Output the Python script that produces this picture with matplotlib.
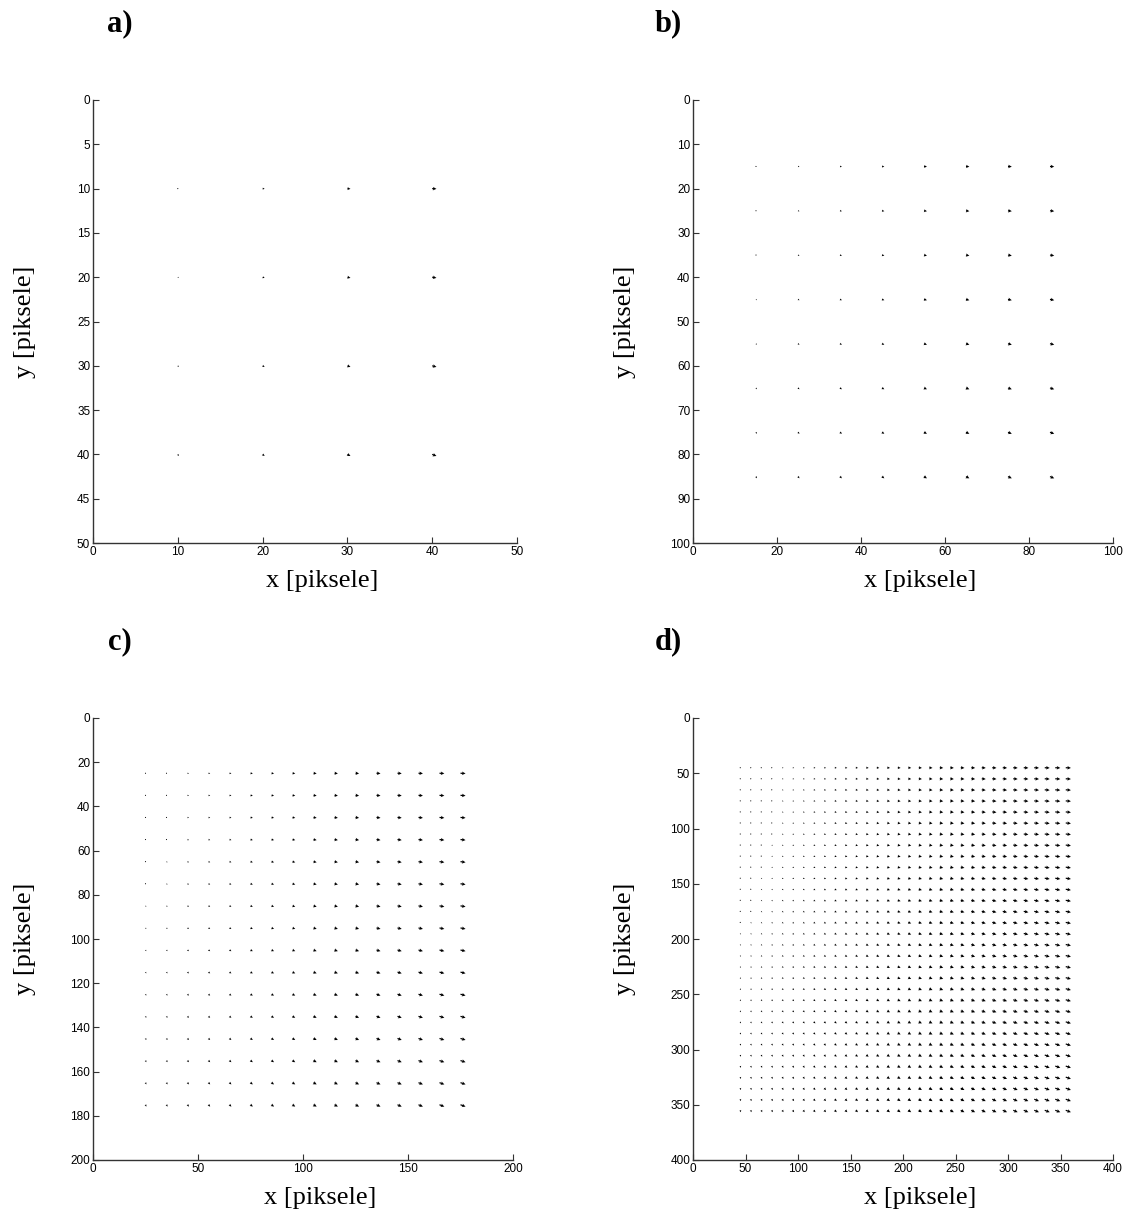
import matplotlib
matplotlib.use("Agg")
import matplotlib.pyplot as plt
import numpy as np

# --- data: grid positions (pixels) and displacement components per column / row
xa = [10, 20, 30, 40]
ua = [0.12, 0.24, 0.36, 0.50]
va = [0.03, 0.08, 0.13, 0.18]

xb = [15, 25, 35, 45, 55, 65, 75, 85]
ub = [0.20, 0.35, 0.45, 0.55, 0.70, 0.80, 0.90, 1.00]
vb = [0.05, 0.10, 0.15, 0.20, 0.25, 0.30, 0.35, 0.40]

xc = list(range(25, 176, 10))
uc = [0.4, 0.5, 0.7, 0.8, 0.9, 1.1, 1.2, 1.3, 1.5, 1.6, 1.7, 1.9, 2.0, 2.1, 2.3, 2.4]
vc = [0.10, 0.15, 0.20, 0.25, 0.30, 0.35, 0.40, 0.45, 0.50, 0.55, 0.60, 0.65,
      0.70, 0.75, 0.80, 0.85]

xd = list(range(45, 356, 10))
ud = [0.6, 0.7, 0.9, 1.0, 1.2, 1.3, 1.4, 1.6, 1.7, 1.9, 2.0, 2.1, 2.3, 2.4, 2.6, 2.7,
      2.8, 3.0, 3.1, 3.3, 3.4, 3.5, 3.7, 3.8, 4.0, 4.1, 4.2, 4.4, 4.5, 4.7, 4.8, 4.9]
vd = [0.20, 0.25, 0.30, 0.35, 0.40, 0.45, 0.50, 0.55, 0.60, 0.65, 0.70, 0.75,
      0.80, 0.85, 0.90, 0.95, 1.00, 1.05, 1.10, 1.15, 1.20, 1.25, 1.30, 1.35,
      1.40, 1.45, 1.50, 1.55, 1.60, 1.65, 1.70, 1.75]

panels = [
    ("a)", xa, ua, va, 50, [0, 10, 20, 30, 40, 50], list(range(0, 51, 5))),
    ("b)", xb, ub, vb, 100, list(range(0, 101, 20)), list(range(0, 101, 10))),
    ("c)", xc, uc, vc, 200, list(range(0, 201, 50)), list(range(0, 201, 20))),
    ("d)", xd, ud, vd, 400, list(range(0, 401, 50)), list(range(0, 401, 50))),
]

W, H = 1131, 1222
fig = plt.figure(figsize=(W / 100, H / 100), dpi=100)

# axes boxes in pixels: left, top, right, bottom
boxes = [(93, 100, 517, 543), (693, 100, 1113, 543),
         (93, 718, 513, 1160), (693, 718, 1113, 1160)]
label_pos = [(120, 24), (668, 24), (120, 642), (668, 642)]

serif = ["Liberation Serif", "DejaVu Serif"]
sans = ["Liberation Sans", "DejaVu Sans"]

for (name, xs, us, vs, lim, xt, yt), (l, t, r, b), (lx, ly) in zip(panels, boxes, label_pos):
    ax = fig.add_axes([l / W, 1 - b / H, (r - l) / W, (b - t) / H])
    X, Y = np.meshgrid(xs, xs)
    U, _ = np.meshgrid(us, xs)
    _, V = np.meshgrid(xs, vs)
    ax.quiver(X, Y, U, V, angles="xy", scale_units="xy", scale=1,
              units="dots", width=1.2, headwidth=3, headlength=3,
              headaxislength=2.5, color="black")
    ax.set_xlim(0, lim)
    ax.set_ylim(lim, 0)
    ax.set_xticks(xt)
    ax.set_yticks(yt)
    for s in ("top", "right"):
        ax.spines[s].set_visible(False)
    for s in ("left", "bottom"):
        ax.spines[s].set_color("#333333")
        ax.spines[s].set_linewidth(1.0)
    ax.tick_params(direction="in", length=4, width=0.8, color="#333333",
                   labelsize=8.5, pad=2)
    for lab in ax.get_xticklabels() + ax.get_yticklabels():
        lab.set_family(sans)
    ax.set_xlabel("x [piksele]", family=serif, fontsize=19)
    ax.set_ylabel("y [piksele]", family=serif, fontsize=19)
    ax.xaxis.set_label_coords(0.54, -0.062)
    ax.yaxis.set_label_coords(-0.135, 0.5)
    fig.text(lx / W, 1 - ly / H, name, family=serif, fontsize=22,
             fontweight="bold", ha="center", va="center")

fig.savefig("out.png", dpi=100)
